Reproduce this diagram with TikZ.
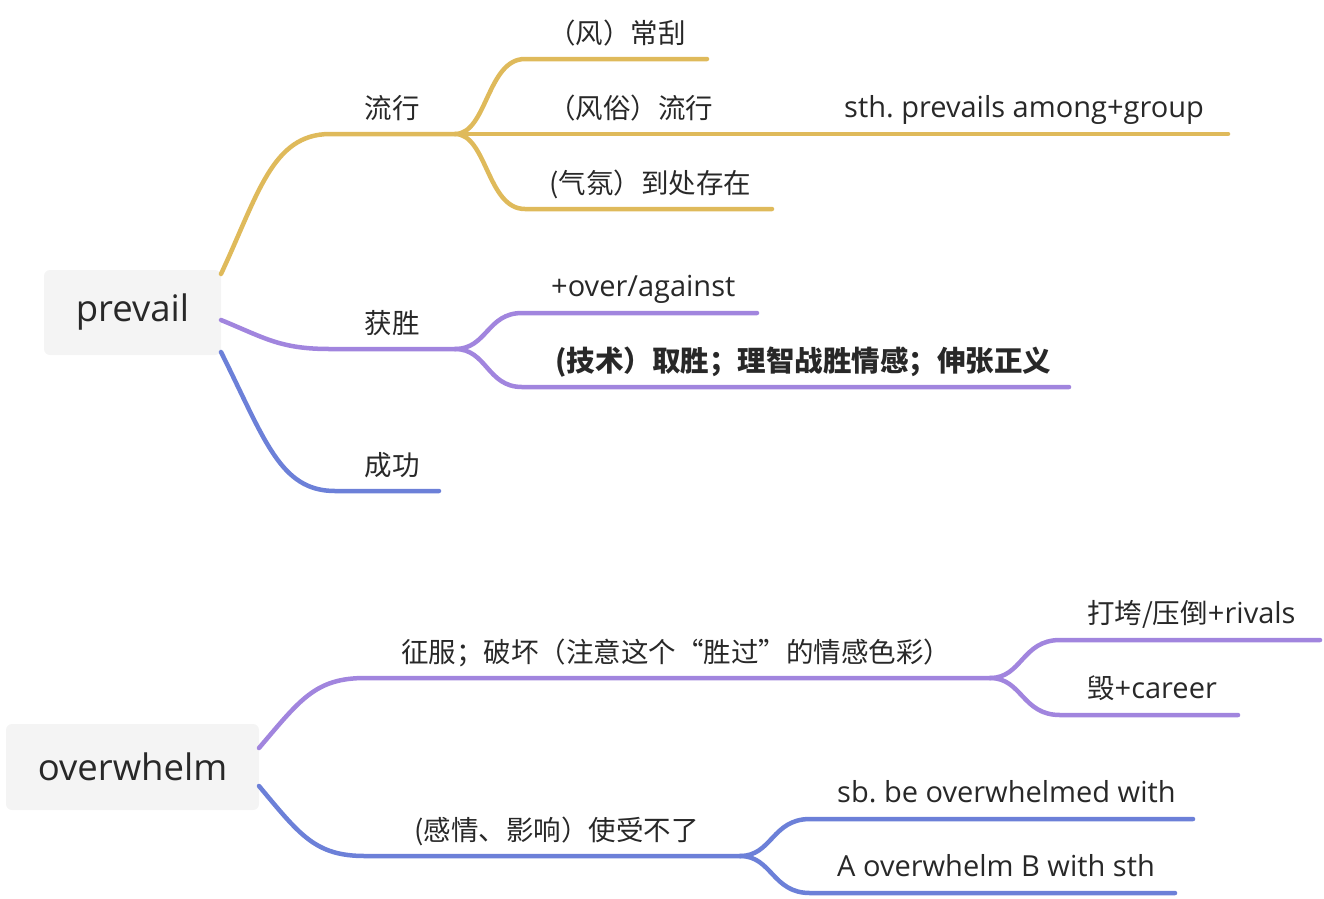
\documentclass[tikz,border=0pt]{standalone}
\usepackage{fontspec}
\setmainfont{Open Sans}
\newfontfamily\cjk{Noto Sans CJK SC}
\frenchspacing
\definecolor{yc}{RGB}{223,186,91}
\definecolor{pc}{RGB}{161,133,222}
\definecolor{bc}{RGB}{108,128,216}
\definecolor{boxbg}{RGB}{244,244,244}
\definecolor{txt}{RGB}{40,40,40}
\begin{document}
\begin{tikzpicture}[x=1pt,y=-1pt,
  lbl/.style={font=\cjk\fontsize{27.5}{32}\selectfont, text=txt, inner sep=0pt, anchor=base west},
  lat/.style={font=\fontsize{29}{34}\selectfont, text=txt, inner sep=0pt, anchor=base west},
  rootbox/.style={fill=boxbg, rounded corners=6pt, text=txt, font=\fontsize{36.5}{42}\selectfont, inner sep=0pt},
  br/.style={line width=4.5pt, line cap=round}]
\useasboundingbox (0,0) rectangle (1324,898);
% root nodes
\node[rootbox, minimum width=177pt, minimum height=85pt] (prevail) at (132.5,312.5) {prevail};
\node[rootbox, minimum width=253pt, minimum height=86pt] (overwhelm) at (132.5,767) {overwhelm};
% coordinates
\coordinate (ya) at (221,274);
\coordinate (yb) at (455,134);
\coordinate (pa) at (221,320);
\coordinate (pb) at (455,349);
\coordinate (ba) at (221,352);
\coordinate (bend) at (439,491);
\coordinate (y1) at (707,59);
\coordinate (y2) at (1228,134);
\coordinate (y3) at (772,209);
\coordinate (p1) at (757,313);
\coordinate (p2) at (1069,387);
\coordinate (oa) at (259,748);
\coordinate (ob) at (990,678);
\coordinate (oc) at (259,786);
\coordinate (od) at (740,856);
\coordinate (o1) at (1320,640);
\coordinate (o2) at (1238,715);
\coordinate (o3) at (1193,819);
\coordinate (o4) at (1175,893);
% prevail branches
\draw[br,yc] (ya) .. controls (258,195) and (272,134) .. (330,134) -- (yb);
\draw[br,yc] (yb) .. controls (487,134) and (487,59) .. (525,59) -- (y1);
\draw[br,yc] (yb) -- (y2);
\draw[br,yc] (yb) .. controls (487,134) and (487,209) .. (525,209) -- (y3);
\draw[br,pc] (pa) .. controls (265,338) and (280,349) .. (330,349) -- (pb);
\draw[br,pc] (pb) .. controls (487,349) and (487,313) .. (522,313) -- (p1);
\draw[br,pc] (pb) .. controls (487,349) and (487,387) .. (522,387) -- (p2);
\draw[br,bc] (ba) .. controls (265,440) and (280,491) .. (335,491) -- (bend);
% overwhelm branches
\draw[br,pc] (oa) .. controls (300,700) and (315,678) .. (365,678) -- (ob);
\draw[br,pc] (ob) .. controls (1022,678) and (1022,640) .. (1060,640) -- (o1);
\draw[br,pc] (ob) .. controls (1022,678) and (1022,715) .. (1060,715) -- (o2);
\draw[br,bc] (oc) .. controls (300,835) and (315,856) .. (365,856) -- (od);
\draw[br,bc] (od) .. controls (772,856) and (772,819) .. (810,819) -- (o3);
\draw[br,bc] (od) .. controls (772,856) and (772,893) .. (810,893) -- (o4);
% labels
\node[lbl, anchor=base] (l1) at (392,118) {流行};
\node[lbl, anchor=base] (l2) at (392,333) {获胜};
\node[lbl, anchor=base] (l3) at (392,475) {成功};
\node[lbl] (t1) at (548,43) {（风）常刮};
\node[lbl] (t2) at (548,118) {（风俗）流行};
\node[lbl] (t3) at (549,193) {(气氛）到处存在};
\node[lat] (t4) at (844,117) {sth. prevails among+group};
\node[lat] (t5) at (551,296) {+over/against};
\node[lbl, font=\cjk\fontsize{28.5}{32}\selectfont\bfseries] (t6) at (555,371) {(技术）取胜；理智战胜情感；伸张正义};
\node[lbl] (t7) at (401,662) {征服；破坏（注意这个“胜过”的情感色彩）};
\node[lat] (t8) at (1087,623) {{\cjk\fontsize{27.5}{32}\selectfont 打垮/压倒}+rivals};
\node[lat] (t9) at (1087,698) {{\cjk\fontsize{27.5}{32}\selectfont 毁}+career};
\node[lbl] (t10) at (414,840) {(感情、影响）使受不了};
\node[lat] (t11) at (837,802) {sb. be overwhelmed with};
\node[lat] (t12) at (837,876) {A overwhelm B with sth};
\end{tikzpicture}
\end{document}
